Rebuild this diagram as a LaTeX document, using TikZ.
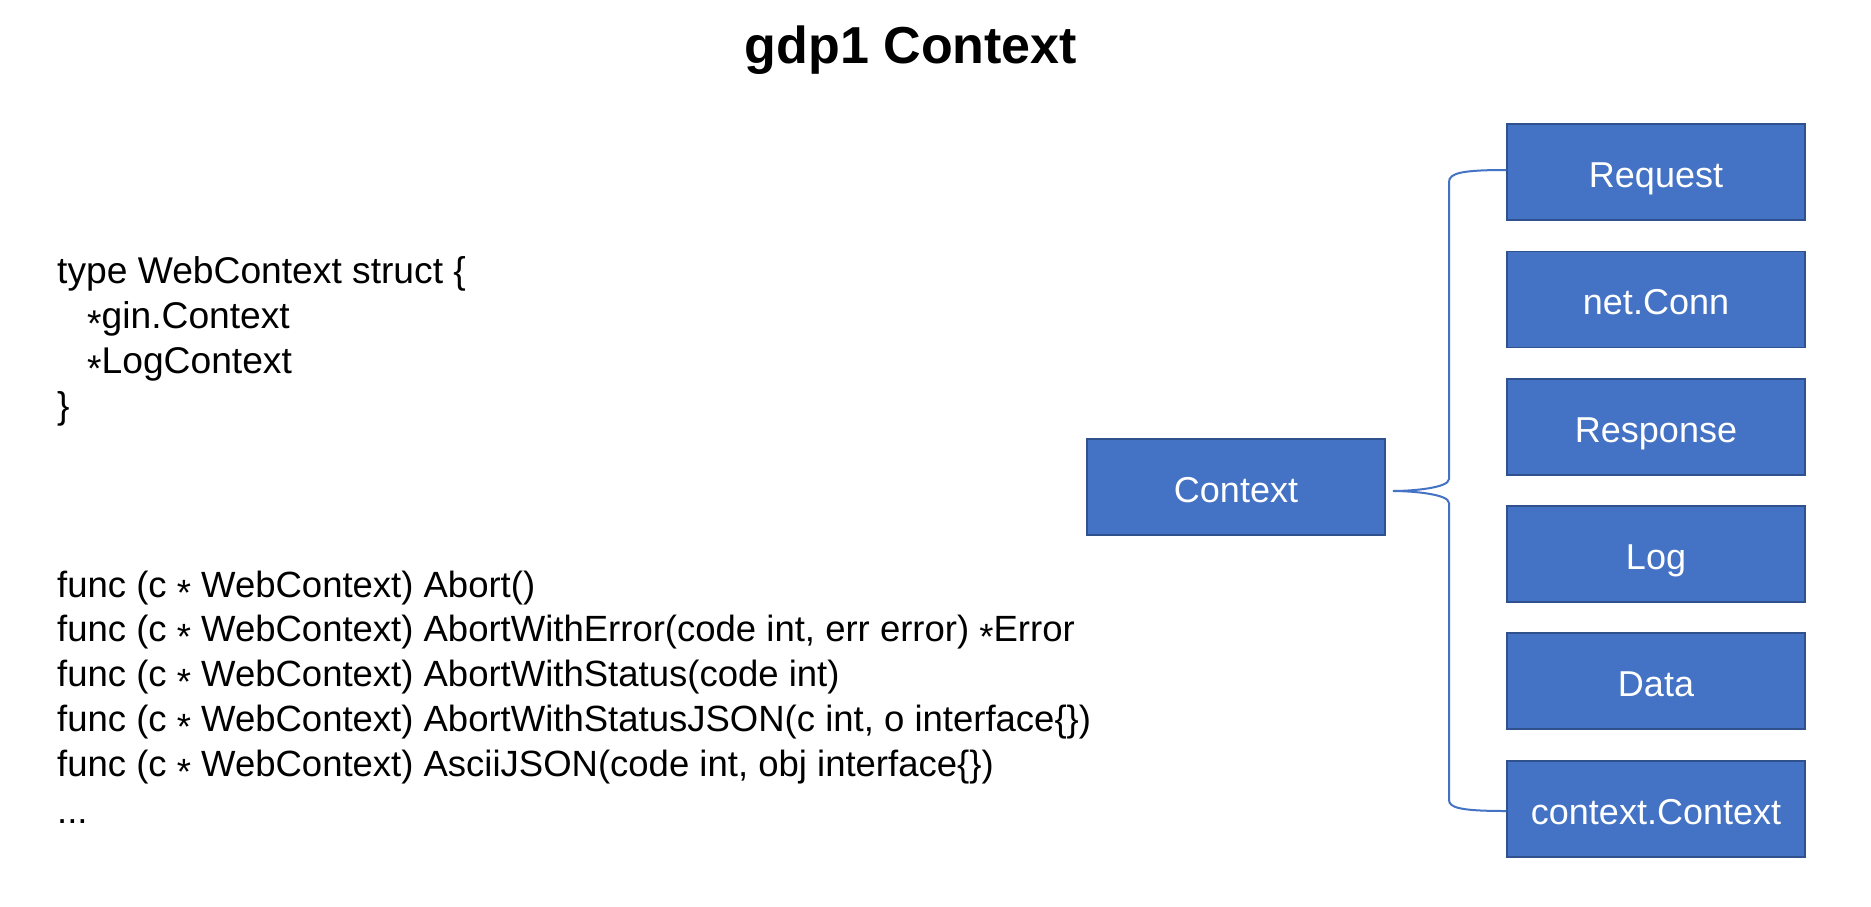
\documentclass[tikz,border=0pt]{standalone}
\usepackage{fontspec}
\setmainfont{Liberation Sans}
\usetikzlibrary{calc}
\definecolor{boxblue}{HTML}{4472C4}
\definecolor{boxborder}{HTML}{2F528F}
\newcommand{\midast}{\raisebox{-8pt}{*}}
\begin{document}
\begin{tikzpicture}[x=1pt,y=-1pt,
  item/.style={draw=boxborder, line width=1.5pt, fill=boxblue, text=white,
    minimum width=298pt, minimum height=96pt, inner sep=0pt,
    text height=30pt, text depth=0pt, font=\fontsize{36}{43}\selectfont},
  code/.style={anchor=base west, inner sep=0pt, font=\fontsize{37.2}{44}\selectfont},
  fcode/.style={anchor=base west, inner sep=0pt, font=\fontsize{36.5}{44}\selectfont},
  brace/.style={draw=boxblue, line width=2pt}]
\useasboundingbox (0,0) rectangle (1871,906);
\fill[white] (0,0) rectangle (1871,906);

% title
\node[anchor=base, inner sep=0pt, font=\bfseries\fontsize{52}{60}\selectfont] (title) at (911,63) {gdp1 Context};

% struct
\node[code] (s1) at (57,283) {type WebContext struct \{};
\node[code] (s2) at (57,328) {\hspace*{30pt}\midast gin.Context};
\node[code] (s3) at (57,373) {\hspace*{30pt}\midast LogContext};
\node[code] (s4) at (57,418) {\}};

% funcs
\node[fcode] (f1) at (57,597) {func (c \midast{} WebContext) Abort()};
\node[fcode] (f2) at (57,641) {func (c \midast{} WebContext) AbortWithError(code int, err error) \midast Error};
\node[fcode] (f3) at (57,686) {func (c \midast{} WebContext) AbortWithStatus(code int)};
\node[fcode] (f4) at (57,731) {func (c \midast{} WebContext) AbortWithStatusJSON(c int, o interface\{\})};
\node[fcode] (f5) at (57,776) {func (c \midast{} WebContext) AsciiJSON(code int, obj interface\{\})};
\node[fcode] (f6) at (57,823) {...};

% boxes
\node[item] (ctx) at (1236,487) {Context};
\node[item] (req) at (1656,172) {Request};
\node[item] (net) at (1656,299.5) {net.Conn};
\node[item] (resp) at (1656,427) {Response};
\node[item] (log) at (1656,554) {Log};
\node[item] (data) at (1656,681) {Data};
\node[item] (cc) at (1656,809) {context.Context};

% brace
\coordinate (tip) at ($(ctx.east)+(7,4)$);
\draw[brace] ($(req.west)+(0,-2)$)
  .. controls (1462,170) and (1449,173) .. (1449,182)
  -- (1449,479)
  .. controls (1449,488) and (1412,491) .. (tip)
  .. controls (1412,491) and (1449,494) .. (1449,503)
  -- (1449,800)
  .. controls (1449,808) and (1462,811) .. ($(cc.west)+(0,2)$);
\end{tikzpicture}
\end{document}
